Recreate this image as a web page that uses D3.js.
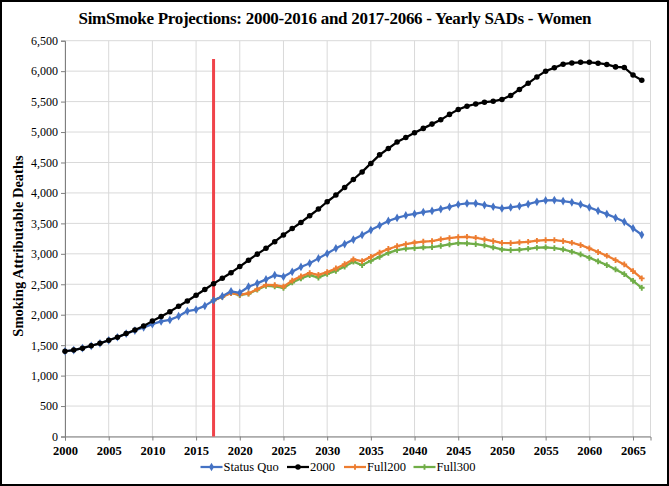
<!DOCTYPE html>
<html><head><meta charset="utf-8">
<script src="https://cdn.jsdelivr.net/npm/d3@7"></script>
<style>body{margin:0;background:#fff}svg{display:block}</style>
</head><body>
<script>
const years = d3.range(2000, 2067);
const statusQuo = [1400,1420,1450,1490,1530,1580,1630,1690,1740,1790,1845,1890,1915,1975,2060,2085,2145,2235,2305,2385,2360,2460,2515,2580,2650,2625,2705,2785,2845,2925,3005,3090,3160,3235,3310,3390,3465,3540,3590,3630,3655,3685,3705,3735,3770,3810,3828,3828,3800,3773,3746,3762,3784,3817,3855,3877,3882,3866,3845,3812,3762,3707,3652,3592,3526,3418,3313];
const s2000 = [1400,1420,1450,1490,1530,1580,1630,1690,1750,1815,1895,1970,2050,2140,2225,2320,2415,2510,2600,2690,2790,2895,2995,3090,3200,3310,3415,3515,3625,3735,3855,3965,4090,4220,4345,4485,4625,4730,4835,4910,4990,5060,5130,5200,5290,5370,5425,5460,5490,5505,5535,5600,5700,5800,5905,6000,6055,6115,6135,6145,6145,6130,6110,6070,6060,5935,5850];
const projYears = d3.range(2017, 2067);
const full200 = [2235,2295,2355,2330,2350,2420,2490,2485,2460,2560,2630,2685,2655,2700,2760,2830,2910,2880,2950,3020,3080,3125,3160,3185,3200,3210,3237,3258,3275,3280,3264,3237,3209,3180,3176,3188,3198,3215,3226,3226,3209,3182,3144,3089,3029,2968,2897,2826,2716,2596];
const full300 = [2235,2295,2360,2320,2345,2410,2475,2465,2440,2530,2595,2650,2610,2670,2720,2790,2870,2815,2885,2950,3015,3060,3085,3095,3105,3110,3132,3155,3176,3171,3160,3138,3105,3072,3061,3067,3083,3100,3105,3094,3072,3034,2990,2935,2876,2815,2744,2667,2557,2442];
const xTicks = d3.range(2000, 2066, 5);
const yTicks = d3.range(0, 6501, 500);
const markerYear = 2017;
const markerTop = 6200;
const title = "SimSmoke Projections: 2000-2016 and 2017-2066 - Yearly SADs - Women";
const yTitle = "Smoking Attributable Deaths";

const W = 669, H = 486;
const svg = d3.select("body").append("svg").attr("width", W).attr("height", H);
svg.append("rect").attr("x",1).attr("y",1).attr("width",W-2).attr("height",H-2)
  .attr("fill","#fff").attr("stroke","#000").attr("stroke-width",2);

const x = d3.scaleLinear().domain([2000, 2067]).range([65, 650.5]);
const y = d3.scaleLinear().domain([0, 6500]).range([436.5, 40.7]);
const serif = "'Liberation Serif','Times New Roman',serif";

// gridlines
const g = svg.append("g");
g.selectAll(".vg").data(xTicks.concat([2067])).join("line")
  .attr("x1", d=>x(d)).attr("x2", d=>x(d)).attr("y1", y(6500)).attr("y2", y(0))
  .attr("stroke","#d9d9d9").attr("stroke-width",1);
g.selectAll(".hg").data(yTicks).join("line")
  .attr("x1", x(2000)).attr("x2", x(2067)).attr("y1", d=>y(d)).attr("y2", d=>y(d))
  .attr("stroke","#d9d9d9").attr("stroke-width",1);

// axes
const xAxis = d3.axisBottom(x).tickValues(xTicks).tickSize(4).tickFormat(d3.format("d"));
const xa = svg.append("g").attr("transform",`translate(0,${y(0)})`).call(xAxis);
xa.select(".domain").attr("stroke","#7f7f7f");
xa.selectAll(".tick line").attr("stroke","#7f7f7f");
xa.selectAll("text").attr("font-family",serif).attr("font-size","12.5px").attr("font-weight","bold").attr("fill","#000").attr("dy","0.9em");

const yAxis = d3.axisLeft(y).tickValues(yTicks).tickSize(4).tickFormat(d3.format(","));
const ya = svg.append("g").attr("transform",`translate(${x(2000)},0)`).call(yAxis);
ya.select(".domain").attr("stroke","#7f7f7f");
ya.selectAll(".tick line").attr("stroke","#7f7f7f");
ya.selectAll("text").attr("font-family",serif).attr("font-size","12px").attr("fill","#000").attr("x",-7);

// red marker line
svg.append("line").attr("x1",x(markerYear)).attr("x2",x(markerYear))
  .attr("y1",y(0)).attr("y2",y(markerTop)).attr("stroke","#f0434a").attr("stroke-width",3);

const series = [
  {name:"Status Quo", xs:years, vs:statusQuo, color:"#4472c4", sym:d3.symbolDiamond, size:22},
  {name:"2000", xs:years, vs:s2000, color:"#000000", sym:d3.symbolCircle, size:24},
  {name:"Full200", xs:projYears, vs:full200, color:"#ed7d31", sym:d3.symbolCross, size:18},
  {name:"Full300", xs:projYears, vs:full300, color:"#70ad47", sym:d3.symbolCross, size:18}
];
const line = d3.line().x(d=>x(d[0])).y(d=>y(d[1]));
[series[3], series[2], series[0], series[1]].forEach(s=>{
  const pts = s.xs.map((yr,i)=>[yr, s.vs[i]]);
  svg.append("path").datum(pts).attr("d",line).attr("fill","none")
    .attr("stroke",s.color).attr("stroke-width",2.25).attr("stroke-linejoin","round");
  svg.append("g").selectAll("path").data(pts).join("path")
    .attr("transform",d=>`translate(${x(d[0])},${y(d[1])})`)
    .attr("d", d3.symbol().type(s.sym).size(s.size)).attr("fill",s.color);
});

// title
svg.append("text").attr("x",335).attr("y",24).attr("text-anchor","middle")
  .attr("font-family",serif).attr("font-size","17px").attr("font-weight","bold")
  .attr("textLength",513).attr("lengthAdjust","spacing").text(title);

// y title
svg.append("text").attr("transform","translate(23,246) rotate(-90)").attr("text-anchor","middle")
  .attr("font-family",serif).attr("font-size","14.5px").attr("font-weight","bold").text(yTitle);

// legend
const leg = svg.append("g");
const legX = [200.5, 287, 344, 413.5];
series.forEach((s,i)=>{
  const lx = legX[i], ly = 467;
  leg.append("line").attr("x1",lx).attr("x2",lx+22).attr("y1",ly).attr("y2",ly)
    .attr("stroke",s.color).attr("stroke-width",2.25);
  leg.append("path").attr("transform",`translate(${lx+11},${ly})`)
    .attr("d", d3.symbol().type(s.sym).size(s.size)).attr("fill",s.color);
  leg.append("text").attr("x",lx+23).attr("y",ly).attr("dy","0.35em")
    .attr("font-family",serif).attr("font-size","12.5px").text(s.name);
});
</script>
</body></html>
